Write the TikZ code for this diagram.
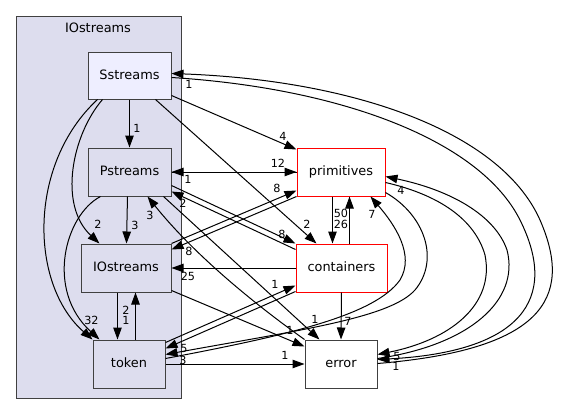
\documentclass[tikz,border=0pt]{standalone}
\usepackage{fontspec}
\setmainfont{DejaVu Sans}
\usetikzlibrary{arrows.meta,calc}
\definecolor{clfill}{HTML}{DDDDEE}
\definecolor{sfill}{HTML}{EEEEFF}
\definecolor{dgray}{HTML}{404040}
\begin{document}
\begin{tikzpicture}[x=1pt,y=-1pt,
  dirbox/.style={draw=dgray, line width=1pt, rectangle, inner sep=0pt,
    font=\fontsize{12.9}{14}\selectfont, text height=9.5pt, text depth=2.5pt},
  redbox/.style={dirbox, draw=red, fill=white},
  plainbox/.style={dirbox, fill=white},
  inbox/.style={dirbox, fill=clfill},
  dep/.style={draw=black, line width=1pt, -{Triangle[length=12pt,width=8.5pt]}},
  lab/.style={font=\fontsize{11.2}{13}\selectfont, inner sep=0pt}]
\useasboundingbox (0,0) rectangle (563,415);
% cluster
\node[draw=dgray, line width=1pt, fill=clfill, rectangle, inner sep=0pt,
  minimum width=165pt, minimum height=382pt] (cl) at (98.5,207) {};
\node[inner sep=0pt, font=\fontsize{12.9}{14}\selectfont] (cltitle) at (98,27.5) {IOstreams};
% nodes
\node[dirbox, fill=sfill, minimum width=83pt, minimum height=47pt] (Sstreams) at (129.5,75.5) {Sstreams};
\node[inbox, minimum width=83pt, minimum height=48pt] (Pstreams) at (129.5,172) {Pstreams};
\node[inbox, minimum width=90pt, minimum height=48pt] (IOs) at (126,268) {IOstreams};
\node[inbox, minimum width=72pt, minimum height=48pt] (token) at (129,364) {token};
\node[redbox, minimum width=88pt, minimum height=48pt] (primitives) at (341,172) {primitives};
\node[redbox, minimum width=91pt, minimum height=48pt] (containers) at (341.5,268) {containers};
\node[plainbox, minimum width=72pt, minimum height=48pt] (error) at (341,364) {error};

% edges inside cluster
\draw[dep] (Sstreams.south) -- (Pstreams.north);
\draw[dep] ($(Sstreams.south west)+(15,0)$) .. controls (72,135) and (58,205) .. ($(IOs.north west)+(19,0)$);
\draw[dep] ($(Sstreams.south west)+(10,0)$) .. controls (27,165) and (30,285) .. (token.north west);
\draw[dep] ($(Pstreams.south west)+(13,0)$) .. controls (65,215) and (45,290) .. ($(token.north west)+(7,0)$);
\draw[dep] ($(Pstreams.south west)+(40,0)$) -- ($(IOs.north west)+(46,0)$);
\draw[dep] ($(IOs.south west)+(37,0)$) -- ($(token.north west)+(25,0)$);
\draw[dep] ($(token.north west)+(43,0)$) -- ($(IOs.south west)+(55,0)$);

% Sstreams outward
\draw[dep] ($(Sstreams.south east)+(0,-4)$) -- ($(primitives.north west)+(0,2)$);
\draw[dep] ($(Sstreams.south east)+(-16,0)$) -- ($(containers.north west)+(21,0)$);

% Pstreams <-> primitives
\draw[dep] (Pstreams.east) -- (primitives.west);
\draw[dep] (primitives.west) -- (Pstreams.east);

% IOstreams <-> primitives
\draw[dep] (IOs.north east) -- ($(primitives.south west)+(0,-6)$);
\draw[dep] (primitives.south west) -- ($(IOs.north east)+(0,6)$);

% Pstreams <-> containers
\draw[dep] ($(Pstreams.north east)+(0,38)$) -- (containers.north west);
\draw[dep] ($(containers.north west)+(0,6)$) -- ($(Pstreams.north east)+(0,44)$);

% to error from the cluster
\draw[dep] ($(Pstreams.south east)+(-8,0)$) -- ($(error.north west)+(15,0)$);
\draw[dep] (error.north west) .. controls (249,300) and (192,252) .. ($(Pstreams.south east)+(-24,0)$);
\draw[dep] ($(IOs.south east)+(0,-2)$) -- ($(error.north west)+(0,7)$);
\draw[dep] (token.east) -- (error.west);

% containers
\draw[dep] (containers.west) -- (IOs.east);
\draw[dep] ($(primitives.south west)+(36,0)$) -- ($(containers.north west)+(37,0)$);
\draw[dep] ($(containers.north west)+(54,0)$) -- ($(primitives.south west)+(53,0)$);
\draw[dep] (containers.south) -- (error.north);
\draw[dep] ($(token.north east)+(0,3)$) -- ($(containers.south west)+(0,-7)$);
\draw[dep] ($(containers.south west)+(0,-1)$) -- ($(token.north east)+(0,9)$);

% primitives <-> token
\draw[dep] ($(primitives.south east)+(0,-4)$) .. controls (425,215) and (440,260) .. (415,290)
  .. controls (390,318) and (300,330) .. ($(token.north east)+(0,15)$);
\draw[dep] ($(token.north east)+(0,19)$) .. controls (290,335) and (375,315) .. (400,280)
  .. controls (415,255) and (395,225) .. ($(primitives.south east)+(-15,0)$);

% primitives <-> error
\draw[dep] ($(error.north east)+(0,19)$) .. controls (470,345) and (520,300) .. (507,250)
  .. controls (495,215) and (450,190) .. ($(primitives.north east)+(0,29)$);
\draw[dep] ($(primitives.north east)+(0,35)$) .. controls (440,195) and (475,220) .. (485,255)
  .. controls (495,305) and (450,340) .. ($(error.north east)+(0,15)$);

% Sstreams <-> error
\draw[dep] ($(error.north east)+(0,24)$) .. controls (540,350) and (575,300) .. (540,220)
  .. controls (500,130) and (350,80) .. ($(Sstreams.north east)+(0,22)$);
\draw[dep] ($(Sstreams.north east)+(0,26)$) .. controls (340,88) and (480,140) .. (520,220)
  .. controls (560,300) and (520,352) .. ($(error.north east)+(0,20)$);

% labels
\node[lab] (l1) at (137,128) {1};
\node[lab] (l2) at (189,84) {1};
\node[lab] (l3) at (283,136) {4};
\node[lab] (l4) at (278,163) {12};
\node[lab] (l5) at (188,179) {1};
\node[lab] (l6) at (277,188) {8};
\node[lab] (l7) at (183,203) {2};
\node[lab] (l8) at (307,224) {2};
\node[lab] (l9) at (282,234) {8};
\node[lab] (l10) at (189,251) {8};
\node[lab] (l11) at (150,215) {3};
\node[lab] (l12) at (98,224) {2};
\node[lab] (l13) at (135,225) {3};
\node[lab] (l14) at (188,276) {25};
\node[lab] (l15) at (275,284) {1};
\node[lab] (l16) at (341,213) {50};
\node[lab] (l17) at (341,224) {26};
\node[lab] (l18) at (372,214) {7};
\node[lab] (l19) at (401,190) {4};
\node[lab] (l20) at (126,310) {2};
\node[lab] (l21) at (126,320) {1};
\node[lab] (l22) at (88,320) {3};
\node[lab] (l23) at (95,320) {2};
\node[lab] (l24) at (184,348) {5};
\node[lab] (l25) at (183,360) {3};
\node[lab] (l26) at (285,355) {1};
\node[lab] (l27) at (290,330) {1};
\node[lab] (l28) at (315,319) {1};
\node[lab] (l29) at (348,321) {7};
\node[lab] (l30) at (397,356) {5};
\node[lab] (l31) at (396,366) {1};
\end{tikzpicture}
\end{document}
